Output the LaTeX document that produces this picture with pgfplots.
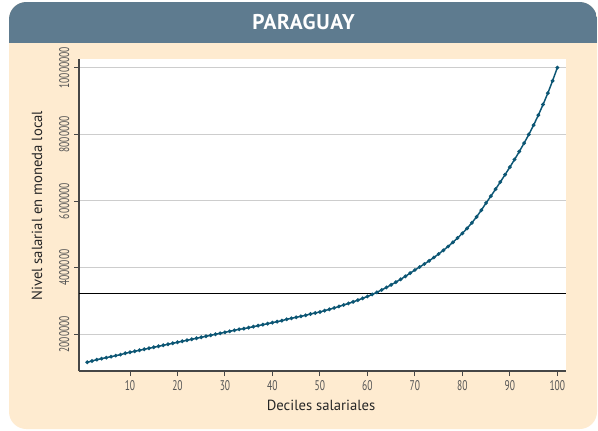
\documentclass[border=0pt]{standalone}
\usepackage{fontspec}
\setmainfont{PT Sans}
\newfontfamily\condfont[FakeStretch=0.68]{PT Sans}
\newfontfamily\titlefont[LetterSpace=3]{PT Sans}
\usepackage{pgfplots}
\usepackage{pgfplotstable}
\pgfplotsset{compat=1.18}

\definecolor{peach}{RGB}{254,235,208}
\definecolor{slate}{RGB}{94,123,143}
\definecolor{curve}{RGB}{12,86,116}
\definecolor{gridgray}{RGB}{205,205,205}
\definecolor{axisgray}{RGB}{70,70,70}
\definecolor{ticktext}{RGB}{85,85,85}

% percentil, nivel salarial
\pgfplotstableread{
x y
1 1160000
2 1200000
3 1240000
4 1270000
5 1300000
6 1330000
7 1360000
8 1390000
9 1430000
10 1460000
11 1490000
12 1520000
13 1550000
14 1580000
15 1610000
16 1640000
17 1670000
18 1700000
19 1730000
20 1760000
21 1790000
22 1820000
23 1850000
24 1880000
25 1910000
26 1940000
27 1970000
28 2000000
29 2030000
30 2060000
31 2090000
32 2120000
33 2150000
34 2170000
35 2200000
36 2230000
37 2260000
38 2290000
39 2320000
40 2350000
41 2380000
42 2410000
43 2450000
44 2480000
45 2510000
46 2540000
47 2570000
48 2610000
49 2640000
50 2670000
51 2710000
52 2750000
53 2790000
54 2835000
55 2880000
56 2925000
57 2975000
58 3025000
59 3080000
60 3135000
61 3195000
62 3260000
63 3330000
64 3405000
65 3485000
66 3565000
67 3650000
68 3740000
69 3835000
70 3930000
71 4020000
72 4110000
73 4205000
74 4305000
75 4410000
76 4520000
77 4635000
78 4760000
79 4890000
80 5030000
81 5180000
82 5345000
83 5525000
84 5725000
85 5940000
86 6145000
87 6355000
88 6570000
89 6790000
90 7015000
91 7245000
92 7485000
93 7735000
94 7995000
95 8275000
96 8575000
97 8895000
98 9235000
99 9605000
100 10000000
}\salarios

\begin{document}
\begin{tikzpicture}
  % panel (1px = 0.75pt)
  \begin{scope}[x=0.75pt,y=0.75pt]
    \useasboundingbox (0,0) rectangle (598,430);
    \fill[white] (0,0) rectangle (598,430);
    \fill[peach, rounded corners=13] (9,1) rectangle (597,428);
    \begin{scope}
      \clip[rounded corners=13] (9,1) rectangle (597,428);
      \fill[slate] (9,387.3) rectangle (597,428);
    \end{scope}
    \node[text=white, font=\titlefont\bfseries\fontsize{16pt}{18pt}\selectfont] at (303.5,407.5) {PARAGUAY};
  \end{scope}

  \begin{axis}[
      at={(59.25pt,44.25pt)}, anchor=south west,
      scale only axis,
      width=365.25pt, height=234pt,
      xmin=-0.74, xmax=101.83,
      ymin=899000, ymax=10260000,
      axis background/.style={fill=white},
      axis x line*=bottom, axis y line*=left,
      axis line style={-, axisgray, line width=0.9pt},
      tick align=outside,
      major tick length=3.75pt,
      tick style={axisgray, line width=0.7pt},
      xtick={10,20,...,100},
      ytick={2000000,4000000,6000000,8000000,10000000},
      scaled y ticks=false,
      /pgf/number format/assume math mode=true,
      ticklabel style={font=\condfont\fontsize{10.5pt}{12pt}\selectfont, text=ticktext},
      yticklabel style={/pgf/number format/fixed, /pgf/number format/1000 sep={}, rotate=90, anchor=south},
      ymajorgrids,
      grid style={gridgray, line width=0.75pt},
      xlabel={Deciles salariales},
      ylabel={Nivel salarial en moneda local},
      label style={font=\fontsize{11pt}{13pt}\selectfont, text=black!85},
      xlabel style={at={(axis description cs:0.497,-0.125)}, anchor=base},
      ylabel style={at={(axis description cs:-0.086,0.53)}, anchor=center},
    ]
    \addplot[black, line width=1.1pt] coordinates {(-0.74,3230000) (101.83,3230000)};
    \addplot[curve, line width=1.1pt, mark=*, mark size=0.8pt] table[x=x, y=y] {\salarios};
  \end{axis}
\end{tikzpicture}
\end{document}
